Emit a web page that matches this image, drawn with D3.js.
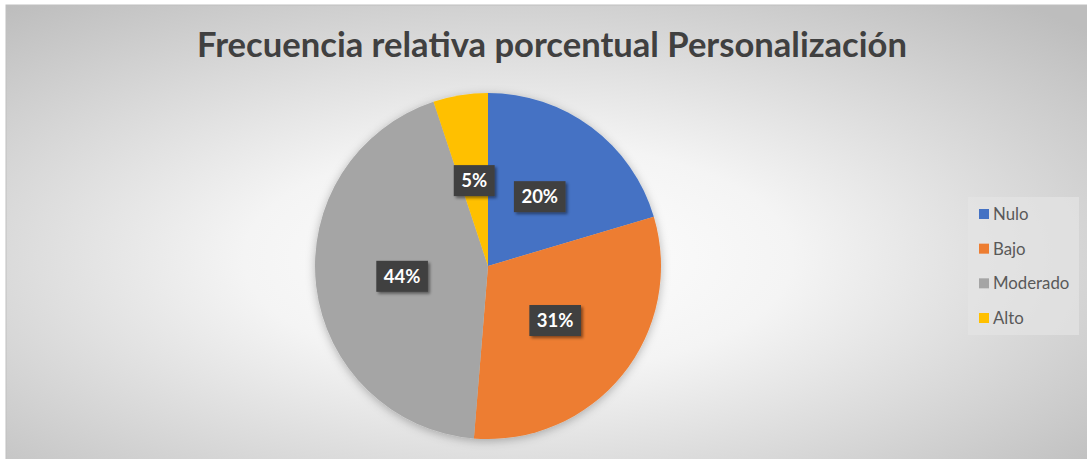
<!DOCTYPE html>
<html><head><meta charset="utf-8">
<script src="https://cdn.jsdelivr.net/npm/d3@7"></script>
<style>html,body{margin:0;padding:0;background:#fff;overflow:hidden}</style>
</head><body>
<svg id="chart" width="1087" height="459"></svg>
<script>
const categories = ["Nulo", "Bajo", "Moderado", "Alto"];
const values = [20.4, 30.9, 43.6, 5.1];
const colors = ["#4472C4", "#ED7D31", "#A5A5A5", "#FFC000"];
const title = "Frecuencia relativa porcentual Personalización";

const FONT = "Lato, 'Open Sans', sans-serif";
const svg = d3.select("#chart");
const defs = svg.append("defs");
const grad = defs.append("radialGradient").attr("id","bg")
  .attr("cx","0.47").attr("cy","0.55").attr("r","0.72").attr("fx","0.47").attr("fy","0.55");
grad.append("stop").attr("offset","0").attr("stop-color","#ffffff");
grad.append("stop").attr("offset","0.35").attr("stop-color","#f4f4f4");
grad.append("stop").attr("offset","1").attr("stop-color","#bdbdbd");

const sh = defs.append("filter").attr("id","pieShadow").attr("x","-20%").attr("y","-20%").attr("width","140%").attr("height","140%");
sh.append("feDropShadow").attr("dx",0).attr("dy",2).attr("stdDeviation",5).attr("flood-color","#000").attr("flood-opacity",0.28);
const lsh = defs.append("filter").attr("id","lblShadow").attr("x","-30%").attr("y","-30%").attr("width","160%").attr("height","160%");
lsh.append("feDropShadow").attr("dx",2).attr("dy",2).attr("stdDeviation",1.6).attr("flood-color","#000").attr("flood-opacity",0.45);

svg.append("rect").attr("x",6).attr("y",5).attr("width",1090).attr("height",460)
  .attr("fill","url(#bg)").attr("stroke","#bfbfbf").attr("stroke-width",1);

// Title
const tt = svg.append("text").attr("x",552).attr("y",57).attr("text-anchor","middle")
  .attr("font-family",FONT).attr("font-weight","bold").attr("font-size",32)
  .attr("fill","#404040").text(title);
const tw = tt.node().getComputedTextLength();
tt.attr("font-size", 32 * 710 / tw);

// Pie
const cx = 488, cy = 266, r = 173;
const pie = d3.pie().sort(null).value(d => d)(values);
const arc = d3.arc().innerRadius(0).outerRadius(r);
const g = svg.append("g").attr("transform",`translate(${cx},${cy})`);
g.append("g").attr("filter","url(#pieShadow)").selectAll("path").data(pie).join("path")
  .attr("d", arc).attr("fill", (d,i) => colors[i]);

const total = d3.sum(values);
const lbl = g.selectAll("g.lbl").data(pie).join("g").attr("class","lbl")
  .attr("transform", d => `translate(${arc.centroid(d)})`);
lbl.each(function(d){
  const s = d3.select(this);
  const txt = Math.round(d.value / total * 100) + "%";
  const t = s.append("text").attr("text-anchor","middle").attr("dy","0.36em")
    .attr("font-family",FONT).attr("font-weight","bold").attr("font-size",18.5)
    .attr("fill","#ffffff").text(txt);
  const w = t.node().getComputedTextLength() + 15;
  s.insert("rect","text").attr("x",-w/2).attr("y",-15.5).attr("width",w).attr("height",31)
    .attr("fill","#404040").attr("filter","url(#lblShadow)");
});

// Legend
const lg = svg.append("g");
lg.append("rect").attr("x",968).attr("y",197).attr("width",111).attr("height",138)
  .attr("fill","#e4e4e4").attr("fill-opacity",0.7);
const ly = d3.scalePoint().domain(categories).range([214, 318]);
const items = lg.selectAll("g.it").data(categories).join("g").attr("class","it")
  .attr("transform", d => `translate(979,${ly(d)})`);
items.append("rect").attr("x",0).attr("y",-5).attr("width",10).attr("height",10)
  .attr("fill", (d,i) => colors[i]);
items.append("text").attr("x",14).attr("dy","0.35em")
  .attr("font-family",FONT).attr("font-size",16.8).attr("fill","#595959")
  .text(d => d);
</script>
</body></html>
